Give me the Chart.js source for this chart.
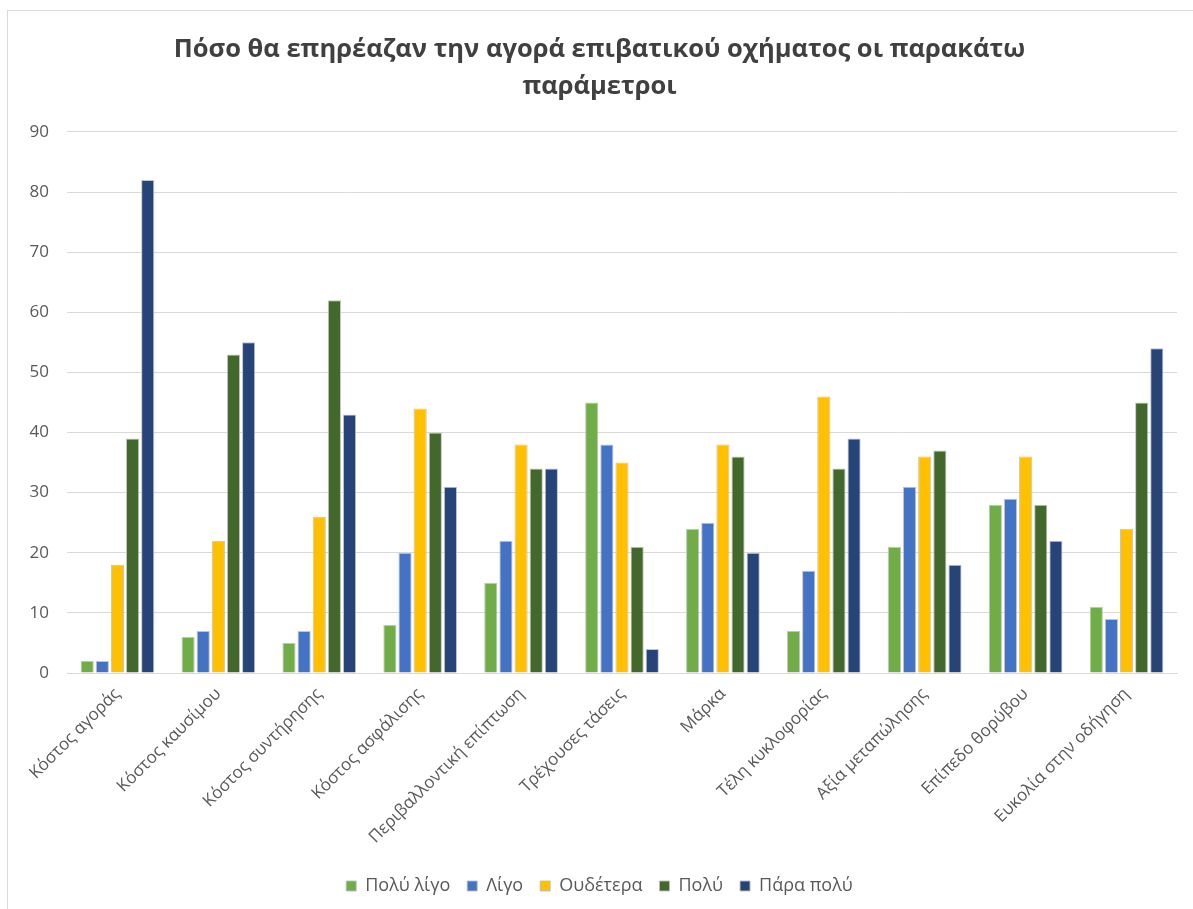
<!DOCTYPE html>
<html>
<head>
<meta charset="utf-8">
<script src="https://cdn.jsdelivr.net/npm/chart.js@4.4.0/dist/chart.umd.min.js"></script>
<style>
  html, body { margin: 0; padding: 0; background: #fff; overflow: hidden; }
  #frame {
    position: absolute; left: 7px; top: 10px;
    width: 1200px; height: 910px;
    border: 1px solid #d9d9d9;
    box-sizing: border-box;
  }
  #chart-wrap { position: absolute; left: 0; top: 0; width: 1198px; height: 908px; }
</style>
</head>
<body>
<div id="frame"><div id="chart-wrap"><canvas id="chart"></canvas></div></div>
<script>
// --- Data ---
const categories = [
    'Κόστος αγοράς', 'Κόστος καυσίμου', 'Κόστος συντήρησης', 'Κόστος ασφάλισης',
    'Περιβαλλοντική επίπτωση', 'Τρέχουσες τάσεις', 'Μάρκα', 'Τέλη κυκλοφορίας',
    'Αξία μεταπώλησης', 'Επίπεδο θορύβου', 'Ευκολία στην οδήγηση'
];
const seriesNames = ['Πολύ λίγο', 'Λίγο', 'Ουδέτερα', 'Πολύ', 'Πάρα πολύ'];
const veryLittle = [2, 6, 5, 8, 15, 45, 24, 7, 21, 28, 11];
const little     = [2, 7, 7, 20, 22, 38, 25, 17, 31, 29, 9];
const neutral    = [18, 22, 26, 44, 38, 35, 38, 46, 36, 36, 24];
const much       = [39, 53, 62, 40, 34, 21, 36, 34, 37, 28, 45];
const veryMuch   = [82, 55, 43, 31, 34, 4, 20, 39, 18, 22, 54];
const yTicks = [0, 10, 20, 30, 40, 50, 60, 70, 80, 90];

const colors = ['#70ad47', '#4472c4', '#ffc000', '#43682b', '#264478'];
const allSeries = [veryLittle, little, neutral, much, veryMuch];

const FONT = '"Open Sans", "Noto Sans", sans-serif';
const TXT = '#595959';

const ctx = document.getElementById('chart').getContext('2d');
const chart = new Chart(ctx, {
    type: 'bar',
    data: {
        labels: categories,
        datasets: allSeries.map((d, i) => ({
            label: seriesNames[i],
            data: d,
            backgroundColor: colors[i],
            borderColor: 'rgba(190,190,190,0.9)',
            borderWidth: 1,
            categoryPercentage: 0.75,
            barPercentage: 0.87
        }))
    },
    options: {
        responsive: true,
        maintainAspectRatio: false,
        animation: false,
        layout: { padding: { left: 14, right: 29, top: 14, bottom: 14 } },
        plugins: {
            title: {
                display: true,
                text: ['Πόσο θα επηρέαζαν την αγορά επιβατικού οχήματος οι παρακάτω', 'παράμετροι'],
                color: '#404040',
                font: { family: FONT, size: 25.5, weight: 'bold', lineHeight: 1.45 },
                padding: { top: 6, bottom: 27 }
            },
            legend: {
                position: 'bottom',
                labels: {
                    color: TXT,
                    font: { family: FONT, size: 18 },
                    boxWidth: 10,
                    boxHeight: 10,
                    padding: 17
                }
            },
            tooltip: { enabled: false }
        },
        scales: {
            x: {
                grid: { display: false },
                border: { color: '#d9d9d9', width: 1 },
                afterFit: (scale) => { scale.height = 187; },
                ticks: {
                    color: TXT,
                    font: { family: FONT, size: 17 },
                    minRotation: 45,
                    maxRotation: 45,
                    autoSkip: false
                }
            },
            y: {
                min: 0,
                max: 90,
                afterBuildTicks: (scale) => { scale.ticks = yTicks.map(v => ({ value: v })); },
                afterFit: (scale) => { scale.width = 45; },
                grid: { color: '#d9d9d9', lineWidth: 1, drawTicks: false },
                border: { display: false },
                ticks: {
                    color: TXT,
                    font: { family: FONT, size: 17 },
                    padding: 18
                }
            }
        }
    }
});
</script>
</body>
</html>
